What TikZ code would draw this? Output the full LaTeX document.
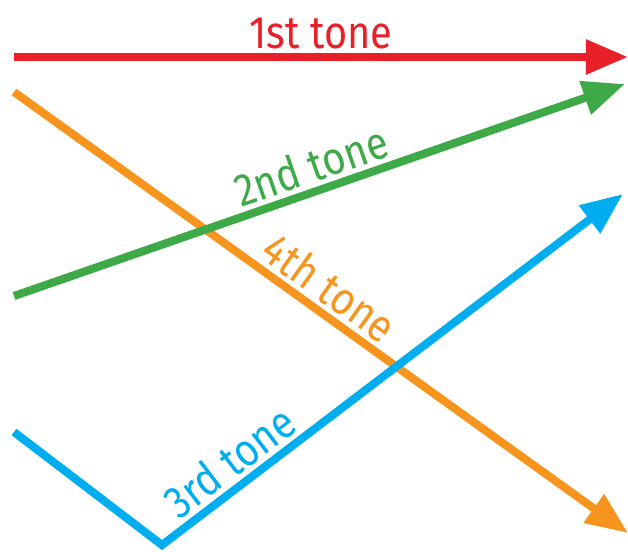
\documentclass[tikz,border=0pt]{standalone}
\usepackage{fontspec}
\setmainfont[FakeStretch=0.87]{Fira Sans}
\usetikzlibrary{arrows.meta}

\definecolor{toneRed}{HTML}{E8202A}
\definecolor{toneGreen}{HTML}{3DAA47}
\definecolor{toneOrange}{HTML}{F7941D}
\definecolor{toneBlue}{HTML}{00AEEF}

\begin{document}
\begin{tikzpicture}[x=0.02cm,y=-0.02cm,
    font=\fontsize{26}{29}\selectfont,
    tone/.style={line width=4.6pt,-{Triangle[length=24pt,width=19pt]}},
    tonelabel/.style={sloped,above,inner sep=2.5pt}]
  \useasboundingbox (0,0) rectangle (628,551);
  % end points of the four contours
  \coordinate (r1) at (14,57);
  \coordinate (r2) at (628,57);
  \coordinate (g1) at (14,296);
  \coordinate (g2) at (625,84);
  \coordinate (o1) at (14,92);
  \coordinate (o2) at (628,533);
  \coordinate (b1) at (14,432);
  \coordinate (b2) at (162,545);
  \coordinate (b3) at (623,194);
  % contours
  \draw [tone,toneRed] (r1) -- node[tonelabel,pos=0.5] {1st tone} (r2);
  \draw [tone,toneOrange] (o1) -- node[tonelabel,pos=0.49] {4th tone} (o2);
  \draw [tone,toneGreen] (g1) -- node[tonelabel,pos=0.5] {2nd tone} (g2);
  \draw [tone,toneBlue] (b1) -- (b2) -- node[tonelabel,pos=0.18] {3rd tone} (b3);
\end{tikzpicture}
\end{document}
